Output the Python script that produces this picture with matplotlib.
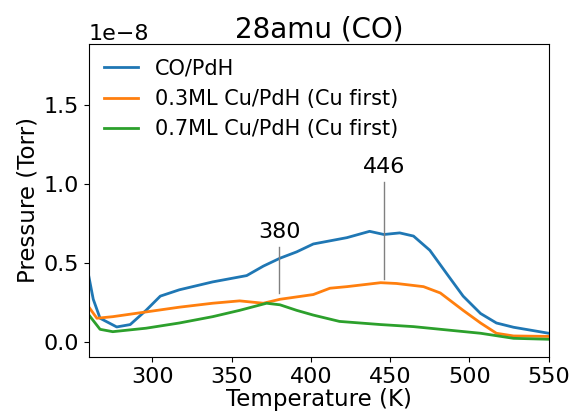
import matplotlib
matplotlib.use("Agg")
import matplotlib.pyplot as plt

# TPD traces (pressure in 1e-8 Torr)
t_co = [260, 262.7, 267, 277.5, 286, 296, 305, 317, 338, 359.5, 370, 380.5, 391, 401.5,
        422.7, 437, 446, 456, 464.7, 475, 485.8, 496, 507, 517, 527.8, 550]
p_co = [0.41, 0.27, 0.15, 0.095, 0.11, 0.20, 0.29, 0.33, 0.38, 0.42, 0.48, 0.53, 0.57, 0.62,
        0.66, 0.70, 0.68, 0.69, 0.67, 0.58, 0.43, 0.29, 0.18, 0.12, 0.093, 0.055]

t_03 = [260, 265, 275, 296, 317, 338, 355, 370, 380.5, 401.5, 412, 422.7, 444, 454,
        471, 481.6, 496, 507, 517, 527.8, 550]
p_03 = [0.22, 0.15, 0.16, 0.19, 0.22, 0.245, 0.26, 0.245, 0.27, 0.30, 0.34, 0.35, 0.375, 0.37,
        0.35, 0.31, 0.20, 0.12, 0.055, 0.038, 0.035]

t_07 = [260, 267, 275, 296, 317, 338, 355, 372, 380.5, 391, 401.5, 418, 444, 464.7,
        485.8, 507, 527.8, 550]
p_07 = [0.17, 0.08, 0.065, 0.087, 0.12, 0.16, 0.20, 0.245, 0.235, 0.20, 0.17, 0.13, 0.11, 0.097,
        0.076, 0.055, 0.023, 0.017]

labels = ["CO/PdH", "0.3ML Cu/PdH (Cu first)", "0.7ML Cu/PdH (Cu first)"]

# peak markers: temperature, line bottom, line top (1e-8 Torr)
peaks = [380, 446]
peak_lo = [0.31, 0.40]
peak_hi = [0.60, 1.01]

scale = 1e-8

fig = plt.figure(figsize=(5.74, 4.18), dpi=100)
ax = fig.add_axes([0.155, 0.146, 0.801, 0.749])

for t, p, lab in zip([t_co, t_03, t_07], [p_co, p_03, p_07], labels):
    ax.plot(t, [v * scale for v in p], lw=2, label=lab)

for t, lo, hi in zip(peaks, peak_lo, peak_hi):
    ax.plot([t, t], [lo * scale, hi * scale], color="gray", lw=1)
    ax.text(t, (hi + 0.035) * scale, str(t), ha="center", va="bottom", fontsize=16)

ax.set_xlim(260, 550)
ax.set_ylim(-0.095e-8, 1.886e-8)
ax.set_xticks([300, 350, 400, 450, 500, 550])
ax.set_yticks([0, 0.5e-8, 1.0e-8, 1.5e-8])
ax.tick_params(labelsize=16)
ax.yaxis.get_offset_text().set_fontsize(16)

ax.set_xlabel("Temperature (K)", fontsize=16.5, labelpad=1)
ax.set_ylabel("Pressure (Torr)", fontsize=16.5, labelpad=3)
ax.set_title("28amu (CO)", fontsize=20, pad=4)
ax.legend(loc="upper left", frameon=False, fontsize=15, handlelength=1.65,
          handletextpad=0.8, borderaxespad=0.3)

fig.savefig("out.png", dpi=100)
